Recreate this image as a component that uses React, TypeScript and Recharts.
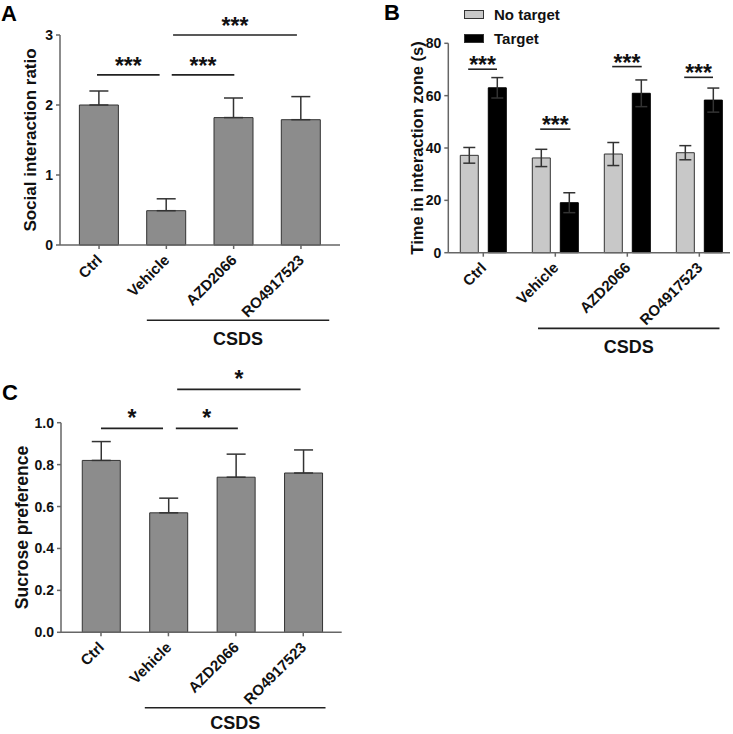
import React from 'react';
import { BarChart, Bar, XAxis, YAxis, ErrorBar, ReferenceLine, Label, Legend } from 'recharts';

const FONT = '"Liberation Sans", Arial, Helvetica, sans-serif';

// categories
const groups = ['Ctrl', 'Vehicle', 'AZD2066', 'RO4917523'];
const groupIdx = [0, 1, 2, 3];

// Panel A: social interaction ratio
const ratioMean = [2.0, 0.49, 1.82, 1.79];
const ratioSem = [0.2, 0.17, 0.28, 0.33];
const ratioTicks = [0, 1, 2, 3];

// Panel B: time in interaction zone (s)
const noTargetMean = [37.2, 36.2, 37.7, 38.2];
const noTargetSem = [3.0, 3.3, 4.4, 2.7];
const targetMean = [63.0, 19.1, 60.9, 58.3];
const targetSem = [3.9, 3.8, 5.1, 4.6];
const timeTicks = [0, 20, 40, 60, 80];

// Panel C: sucrose preference
const sucroseMean = [0.82, 0.57, 0.74, 0.76];
const sucroseSem = [0.09, 0.07, 0.11, 0.11];
const sucroseTicks = [0, 0.2, 0.4, 0.6, 0.8, 1.0];

// significance brackets (data units)
const sigA = [
  { x1: -0.03, x2: 0.9, y: 2.43, text: '***' },
  { x1: 1.08, x2: 2.01, y: 2.43, text: '***' },
  { x1: 1.1, x2: 2.94, y: 3.0, text: '***' },
];
const sigB = [
  { x1: -0.21, x2: 0.19, y: 70.1, text: '***' },
  { x1: 0.79, x2: 1.21, y: 47.2, text: '***' },
  { x1: 1.79, x2: 2.2, y: 71.1, text: '***' },
  { x1: 2.79, x2: 3.19, y: 67.0, text: '***' },
];
const sigC = [
  { x1: 0, x2: 0.92, y: 0.973, text: '*' },
  { x1: 1.11, x2: 2.03, y: 0.973, text: '*' },
  { x1: 1.13, x2: 2.96, y: 1.159, text: '*' },
];
// CSDS group line (data units, below axis)
const csdsA = { x1: 0.71, x2: 3.42, y: -1.076 };
const csdsB = { x1: 0.76, x2: 3.28, y: -28.9 };
const csdsC = { x1: 0.65, x2: 3.33, y: -0.36 };

const dataA = groupIdx.map((i) => ({ idx: i, mean: ratioMean[i], err: [0, ratioSem[i]] }));
const dataB = groupIdx.map((i) => ({
  idx: i,
  noTarget: noTargetMean[i],
  noTargetErr: noTargetSem[i],
  target: targetMean[i],
  targetErr: targetSem[i],
}));
const dataC = groupIdx.map((i) => ({ idx: i, mean: sucroseMean[i], err: [0, sucroseSem[i]] }));

const AXIS_COLOR = '#666';
const BAR_STROKE = '#333';
const GRAY = '#8c8c8c';
const LIGHT = '#c8c8c8';

function AngledTick(props: any) {
  const { x, y, payload } = props;
  const ax = x + 4;
  const ay = y + 10;
  return (
    <text
      x={ax}
      y={ay}
      transform={`rotate(-45 ${ax} ${ay})`}
      textAnchor="end"
      fontSize={15}
      fontWeight={700}
      fill="#111"
      fontFamily={FONT}
    >
      {groups[payload.value]}
    </text>
  );
}

function yTitle(text: string, gap: number, size: number) {
  return (props: any) => {
    const vb = props.viewBox || {};
    const cx = vb.x + vb.width - gap;
    const cy = vb.y + vb.height / 2;
    return (
      <text
        x={cx}
        y={cy}
        transform={`rotate(-90 ${cx} ${cy})`}
        textAnchor="middle"
        dominantBaseline="central"
        fontSize={size}
        fontWeight={700}
        fill="#111"
        fontFamily={FONT}
      >
        {text}
      </text>
    );
  };
}

const yTick = { fontSize: 14, fontWeight: 700, fill: '#111', fontFamily: FONT };

function sigLines(list: any[], offset: number, prefix: string) {
  return list.map((s, k) => (
    <ReferenceLine
      key={prefix + k}
      segment={[{ x: s.x1, y: s.y }, { x: s.x2, y: s.y }]}
      stroke="#222"
      strokeWidth={1.6}
      ifOverflow="visible"
      label={{
        value: s.text,
        position: 'top',
        offset,
        fontSize: 23,
        fontWeight: 700,
        fill: '#111',
        fontFamily: FONT,
      }}
    />
  ));
}

function csdsLine(c: any, key: string, offset: number) {
  return (
    <ReferenceLine
      key={key}
      segment={[{ x: c.x1, y: c.y }, { x: c.x2, y: c.y }]}
      stroke="#222"
      strokeWidth={1.6}
      ifOverflow="visible"
      label={{
        value: 'CSDS',
        position: 'bottom',
        offset,
        fontSize: 18,
        fontWeight: 700,
        fill: '#111',
        fontFamily: FONT,
      }}
    />
  );
}

function LegendBox() {
  const row = (color: string, text: string) => (
    <div style={{ display: 'flex', alignItems: 'center', height: 24 }}>
      <span
        style={{
          display: 'inline-block',
          width: 18,
          height: 7,
          background: color,
          border: '1px solid #333',
          marginRight: 10,
        }}
      />
      <span style={{ fontSize: 15, fontWeight: 700, color: '#111', fontFamily: FONT }}>{text}</span>
    </div>
  );
  return (
    <div>
      {row(LIGHT, 'No target')}
      {row('#000', 'Target')}
    </div>
  );
}

export default function App() {
  return (
    <div style={{ position: 'absolute', left: 0, top: 0, width: 733, height: 734, background: '#fff' }}>
      {/* Panel A */}
      <div style={{ position: 'absolute', left: 0, top: 0 }}>
        <BarChart width={360} height={360} data={dataA} margin={{ top: 35, right: 20, left: 10, bottom: 55 }}>
          <XAxis
            dataKey="idx"
            type="number"
            domain={[-0.58, 3.58]}
            allowDataOverflow
            ticks={groupIdx}
            interval={0}
            tick={<AngledTick />}
            tickSize={4}
            height={60}
            stroke={AXIS_COLOR}
            strokeWidth={1.5}
          />
          <YAxis
            type="number"
            domain={[0, 3]}
            ticks={ratioTicks}
            interval={0}
            width={50}
            tickSize={4}
            tickMargin={3}
            tick={yTick}
            stroke={AXIS_COLOR}
            strokeWidth={1.5}
          >
            <Label content={yTitle('Social interaction ratio', 29.3, 17)} />
          </YAxis>
          <Bar dataKey="mean" fill={GRAY} stroke={BAR_STROKE} strokeWidth={1} barSize={39} isAnimationActive={false}>
            <ErrorBar dataKey="err" direction="y" width={9.5} stroke="#333" strokeWidth={1.5} />
          </Bar>
          {sigLines(sigA, 1, 'a')}
          {csdsLine(csdsA, 'csdsA', 12)}
        </BarChart>
      </div>

      {/* Panel B */}
      <div style={{ position: 'absolute', left: 360, top: 0 }}>
        <BarChart
          width={373}
          height={360}
          data={dataB}
          barGap={10}
          margin={{ top: 43.3, right: 3, left: 25, bottom: 47.3 }}
        >
          <XAxis
            dataKey="idx"
            type="number"
            domain={[-0.486, 3.426]}
            allowDataOverflow
            ticks={groupIdx}
            interval={0}
            tick={<AngledTick />}
            tickSize={4}
            height={60}
            stroke={AXIS_COLOR}
            strokeWidth={1.5}
          />
          <YAxis
            type="number"
            domain={[0, 80]}
            ticks={timeTicks}
            interval={0}
            width={63.3}
            tickSize={4}
            tickMargin={3}
            tick={yTick}
            stroke={AXIS_COLOR}
            strokeWidth={1.5}
          >
            <Label content={yTitle('Time in interaction zone (s)', 31.6, 16.5)} />
          </YAxis>
          <Legend
            layout="vertical"
            align="center"
            verticalAlign="middle"
            content={<LegendBox />}
            wrapperStyle={{ position: 'absolute', left: 104, top: 2, width: 'auto', height: 'auto' }}
          />
          <Bar dataKey="noTarget" name="No target" fill={LIGHT} stroke={BAR_STROKE} strokeWidth={1} barSize={18} isAnimationActive={false}>
            <ErrorBar dataKey="noTargetErr" direction="y" width={6} stroke="#333" strokeWidth={1.5} />
          </Bar>
          <Bar dataKey="target" name="Target" fill="#000" stroke="#000" strokeWidth={1} barSize={18} isAnimationActive={false}>
            <ErrorBar dataKey="targetErr" direction="y" width={6} stroke="#333" strokeWidth={1.5} />
          </Bar>
          {sigLines(sigB, -4, 'b')}
          {csdsLine(csdsB, 'csdsB', 12)}
        </BarChart>
      </div>

      {/* Panel C */}
      <div style={{ position: 'absolute', left: 0, top: 360 }}>
        <BarChart width={360} height={374} data={dataC} margin={{ top: 62.7, right: 18.3, left: 10, bottom: 41.7 }}>
          <XAxis
            dataKey="idx"
            type="number"
            domain={[-0.593, 3.57]}
            allowDataOverflow
            ticks={groupIdx}
            interval={0}
            tick={<AngledTick />}
            tickSize={4}
            height={60}
            stroke={AXIS_COLOR}
            strokeWidth={1.5}
          />
          <YAxis
            type="number"
            domain={[0, 1]}
            ticks={sucroseTicks}
            interval={0}
            width={51}
            tickSize={4}
            tickMargin={3}
            tick={yTick}
            tickFormatter={(v: number) => v.toFixed(1)}
            stroke={AXIS_COLOR}
            strokeWidth={1.5}
          >
            <Label content={yTitle('Sucrose preference', 39.3, 17.5)} />
          </YAxis>
          <Bar dataKey="mean" fill={GRAY} stroke={BAR_STROKE} strokeWidth={1} barSize={38} isAnimationActive={false}>
            <ErrorBar dataKey="err" direction="y" width={9.5} stroke="#333" strokeWidth={1.5} />
          </Bar>
          {sigLines(sigC, 2, 'c')}
          {csdsLine(csdsC, 'csdsC', 8)}
        </BarChart>
      </div>

      {/* panel letters */}
      <svg width={733} height={734} style={{ position: 'absolute', left: 0, top: 0, pointerEvents: 'none' }}>
        <text x={1} y={21} fontSize={22} fontWeight={700} fill="#000" fontFamily={FONT}>A</text>
        <text x={384} y={20} fontSize={22} fontWeight={700} fill="#000" fontFamily={FONT}>B</text>
        <text x={2} y={399.5} fontSize={22} fontWeight={700} fill="#000" fontFamily={FONT}>C</text>
      </svg>
    </div>
  );
}
